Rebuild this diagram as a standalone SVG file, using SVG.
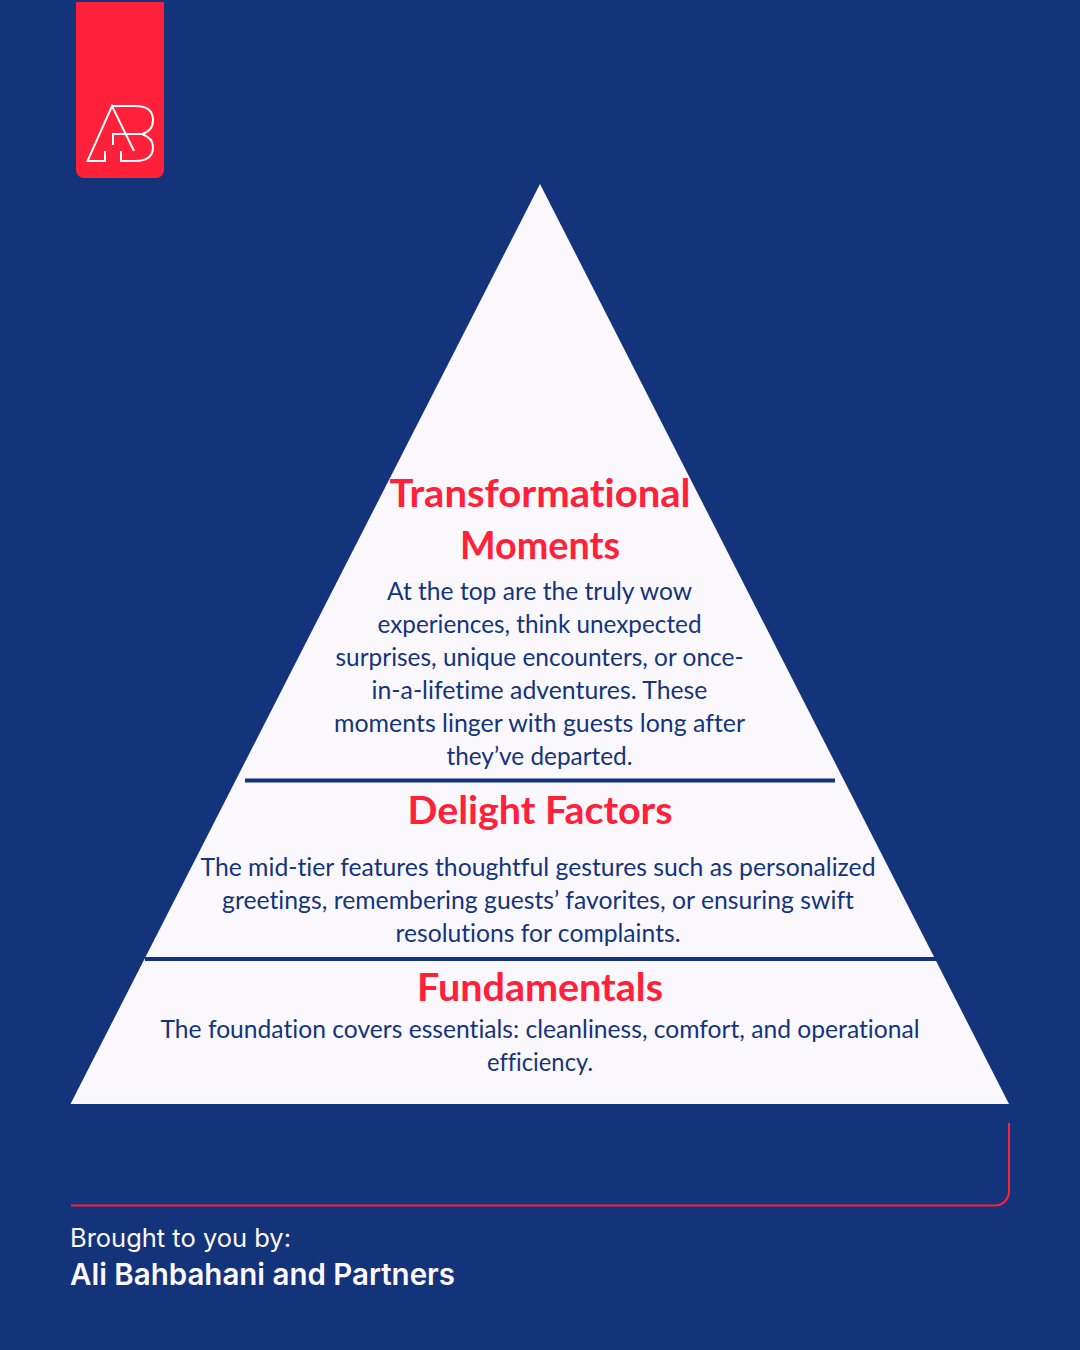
<svg xmlns="http://www.w3.org/2000/svg" width="1080" height="1350" viewBox="0 0 1080 1350">
<style>
.h{font-family:Lato,"Noto Sans",sans-serif;font-weight:700;font-size:39px;fill:#ff2039;text-anchor:middle;font-variant-ligatures:none}
.b{font-family:Lato,"Noto Sans",sans-serif;font-size:25px;fill:#14347c;text-anchor:middle;font-variant-ligatures:none}
.f{font-family:Inter,"Liberation Sans",sans-serif;fill:#fdf9fd}
.logo{fill:none;stroke:#fff;stroke-width:2}
</style>
<rect width="1080" height="1350" fill="#13337b"/>
<g id="logo">
<path d="M76 2H164V170a8 8 0 0 1-8 8H84a8 8 0 0 1-8-8Z" fill="#ff2039"/>
<path class="logo" d="M134 151L112 106L87.500 161H105V151"/>
<path class="logo" d="M112 106H135Q153 106 153 120Q153 131 142 134Q153 138 153 147Q153 161 135 161H121V151"/>
<path class="logo" d="M113 145V134H142"/>
</g>
<g id="pyramid">
<polygon points="540,184 1009,1104 70.500,1104" fill="#fbf8fd"/>
</g>
<g id="tier-top">
<text class="h" x="540" y="507" textLength="301" lengthAdjust="spacingAndGlyphs">Transformational</text>
<text class="h" x="540" y="559" textLength="160" lengthAdjust="spacingAndGlyphs">Moments</text>
<text class="b" x="539.500" y="600" textLength="305" lengthAdjust="spacingAndGlyphs">At the top are the truly wow</text>
<text class="b" x="539.500" y="633" textLength="324" lengthAdjust="spacingAndGlyphs">experiences, think unexpected</text>
<text class="b" x="539.500" y="666" textLength="408" lengthAdjust="spacingAndGlyphs">surprises, unique encounters, or once-</text>
<text class="b" x="539.500" y="699" textLength="336" lengthAdjust="spacingAndGlyphs">in-a-lifetime adventures. These</text>
<text class="b" x="539.500" y="732" textLength="411" lengthAdjust="spacingAndGlyphs">moments linger with guests long after</text>
<text class="b" x="539.500" y="765" textLength="186" lengthAdjust="spacingAndGlyphs">they’ve departed.</text>
</g>
<g id="tier-mid">
<text class="h" x="540" y="824" textLength="265" lengthAdjust="spacingAndGlyphs">Delight Factors</text>
<text class="b" x="538" y="876" textLength="675" lengthAdjust="spacingAndGlyphs">The mid-tier features thoughtful gestures such as personalized</text>
<text class="b" x="538" y="909" textLength="632" lengthAdjust="spacingAndGlyphs">greetings, remembering guests’ favorites, or ensuring swift</text>
<text class="b" x="538" y="942" textLength="285" lengthAdjust="spacingAndGlyphs">resolutions for complaints.</text>
</g>
<g id="tier-base">
<text class="h" x="540" y="1001" textLength="246" lengthAdjust="spacingAndGlyphs">Fundamentals</text>
<text class="b" x="540" y="1038" textLength="759" lengthAdjust="spacingAndGlyphs">The foundation covers essentials: cleanliness, comfort, and operational</text>
<text class="b" x="540" y="1071" textLength="106" lengthAdjust="spacingAndGlyphs">efficiency.</text>
</g>
<g id="connectors" fill="none">
<path d="M245 780.500H835" stroke="#12317f" stroke-width="4"/>
<path d="M145 959H938" stroke="#12317f" stroke-width="4"/>
<path d="M1009 1123V1191a14 14 0 0 1-14 14.500H71" stroke="#ff2039" stroke-width="2"/>
</g>
<g id="footer">
<text class="f" x="70" y="1247" font-size="25" textLength="221" lengthAdjust="spacingAndGlyphs">Brought to you by:</text>
<text class="f" x="70" y="1285" font-size="30" font-weight="600" textLength="385" lengthAdjust="spacingAndGlyphs">Ali Bahbahani and Partners</text>
</g>
</svg>
